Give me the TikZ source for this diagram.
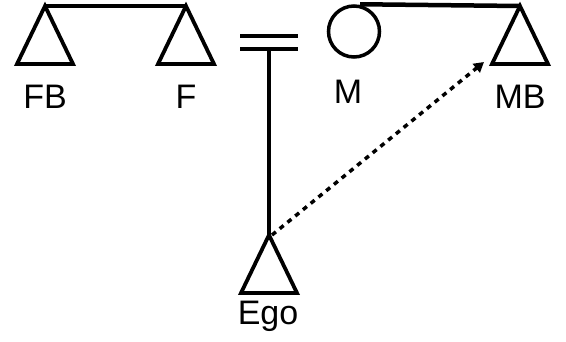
\documentclass[tikz,border=0pt]{standalone}
\usepackage{fontspec}
\setmainfont{Liberation Sans}
\usetikzlibrary{positioning,arrows.meta}

\tikzset{
    male/.style={line width=3.8pt, line join=miter},
    kinlabel/.style={font=\fontsize{34}{40}\selectfont, inner sep=0pt},
    bond/.style={line width=4.5pt},
}

\begin{document}
\begin{tikzpicture}[x=1pt, y=-1pt]
    \useasboundingbox (0,0) rectangle (566,341);

    % Apex points of the male symbols
    \coordinate (FB) at (45,6);
    \coordinate (F) at (186,6);
    \coordinate (MB) at (520,6);
    \coordinate (Ego) at (269,235);
    \coordinate (marriage) at (269,51);
    \coordinate (target) at (484,62);

    % Male symbols (triangles hanging from the apex)
    \foreach \p in {FB,F,MB,Ego}
        \draw[male] (\p) -- ++(-28,58) -- ++(56,0) -- cycle;

    % Female symbol
    \node[circle, draw, line width=3.5pt, minimum size=51pt, inner sep=0pt] (M) at (354,31.5) {};

    % Labels
    \node[kinlabel] (FBlab) at (45,97) {FB};
    \node[kinlabel] (Flab) at (186,97) {F};
    \node[kinlabel] (Mlab) at (348,92) {M};
    \node[kinlabel] (MBlab) at (520,97) {MB};
    \node[kinlabel] (Egolab) at (268,316) {Ego};

    % Sibling bars
    \draw[bond] (FB) -- (F);
    \draw[bond] ([xshift=6pt]M.north) -- (MB);

    % Marriage sign and descent line
    \draw[bond] ([xshift=-29pt, yshift=15pt]marriage) -- ([xshift=29pt, yshift=15pt]marriage);
    \draw[bond] ([xshift=-29pt, yshift=2pt]marriage) -- ([xshift=29pt, yshift=2pt]marriage);
    \draw[line width=3.5pt] (marriage) -- (Ego);

    % Dotted link
    \draw[line width=3.5pt, dash pattern=on 5pt off 5pt, -{Triangle[length=10pt, width=11pt]}] ([xshift=3pt]Ego) -- (target);
\end{tikzpicture}
\end{document}
